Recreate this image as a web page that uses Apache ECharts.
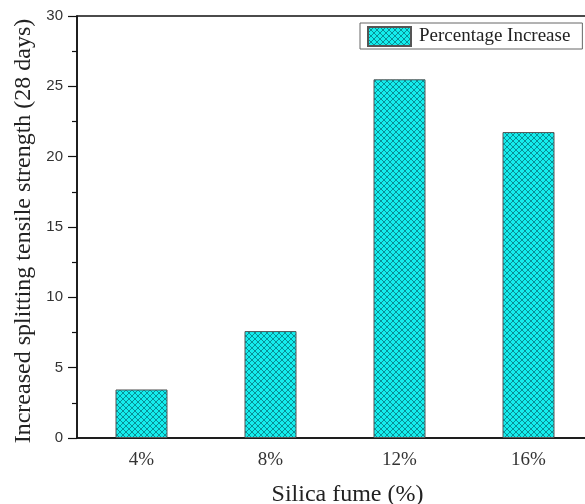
<!DOCTYPE html>
<html>
<head>
<meta charset="utf-8">
<script src="https://cdn.jsdelivr.net/npm/echarts@6/dist/echarts.min.js"></script>
<style>
  html, body { margin: 0; padding: 0; background: #fff; }
  #chart { width: 585px; height: 504px; }
</style>
</head>
<body>
<div id="chart"></div>
<script>
// Silica fume dosage and increase in 28-day splitting tensile strength
const categories = ['4%', '8%', '12%', '16%'];
const increaseValues = [3.45, 7.6, 25.5, 21.75];
const yTicks = [0, 5, 10, 15, 20, 25, 30];

// cross-hatched cyan fill
function hatch() {
  const c = document.createElement('canvas');
  c.width = 6; c.height = 6;
  const g = c.getContext('2d');
  g.fillStyle = '#14EDED';
  g.fillRect(0, 0, 6, 6);
  g.strokeStyle = 'rgba(0,80,90,0.75)';
  g.lineWidth = 0.8;
  g.beginPath();
  g.moveTo(0, 0); g.lineTo(6, 6);
  g.moveTo(6, 0); g.lineTo(0, 6);
  g.stroke();
  return c;
}
const pattern = { image: hatch(), repeat: 'repeat' };

const chart = echarts.init(document.getElementById('chart'));
chart.setOption({
  animation: false,
  grid: {
    left: 77, top: 16, width: 516, height: 422,
    outerBoundsMode: 'none', containLabel: false,
    show: true, borderColor: '#111', borderWidth: 1.5
  },
  legend: {
    left: 360, top: 23,
    itemWidth: 43, itemHeight: 19, itemGap: 6,
    padding: [3, 12, 2, 7],
    textStyle: { fontFamily: 'Liberation Serif', fontSize: 19, color: '#222', padding: [0, 0, 0, 3] },
    borderColor: '#666', borderWidth: 1, borderRadius: 0,
    data: [{ name: 'Percentage Increase', icon: 'rect' }]
  },
  xAxis: {
    type: 'category',
    data: categories,
    axisLine: { lineStyle: { color: '#111', width: 1.5 } },
    axisTick: { show: false },
    axisLabel: { fontFamily: 'Liberation Serif', fontSize: 19, color: '#333', margin: 13 },
    name: 'Silica fume (%)',
    nameLocation: 'middle',
    nameGap: 45,
    nameTextStyle: { fontFamily: 'Liberation Serif', fontSize: 24, color: '#222', padding: [0, 0, 0, 25] }
  },
  yAxis: {
    type: 'value',
    min: yTicks[0], max: yTicks[yTicks.length - 1], interval: 5,
    splitLine: { show: false },
    axisLine: { show: true, lineStyle: { color: '#111', width: 1.5 } },
    axisTick: { show: true, length: 9, lineStyle: { color: '#111', width: 1.2 } },
    minorTick: { show: true, splitNumber: 2, length: 5, lineStyle: { color: '#111', width: 1.2 } },
    axisLabel: { fontFamily: 'Liberation Sans', fontSize: 15, color: '#333', margin: 14 },
    name: 'Increased splitting tensile strength (28 days)',
    nameLocation: 'middle',
    nameGap: 41,
    nameTextStyle: { fontFamily: 'Liberation Serif', fontSize: 24, color: '#222', padding: [0, 8, 0, 0] }
  },
  series: [{
    name: 'Percentage Increase',
    type: 'bar',
    data: increaseValues,
    barWidth: 52,
    itemStyle: { color: pattern, borderColor: '#555', borderWidth: 1 }
  }]
});
</script>
</body>
</html>
